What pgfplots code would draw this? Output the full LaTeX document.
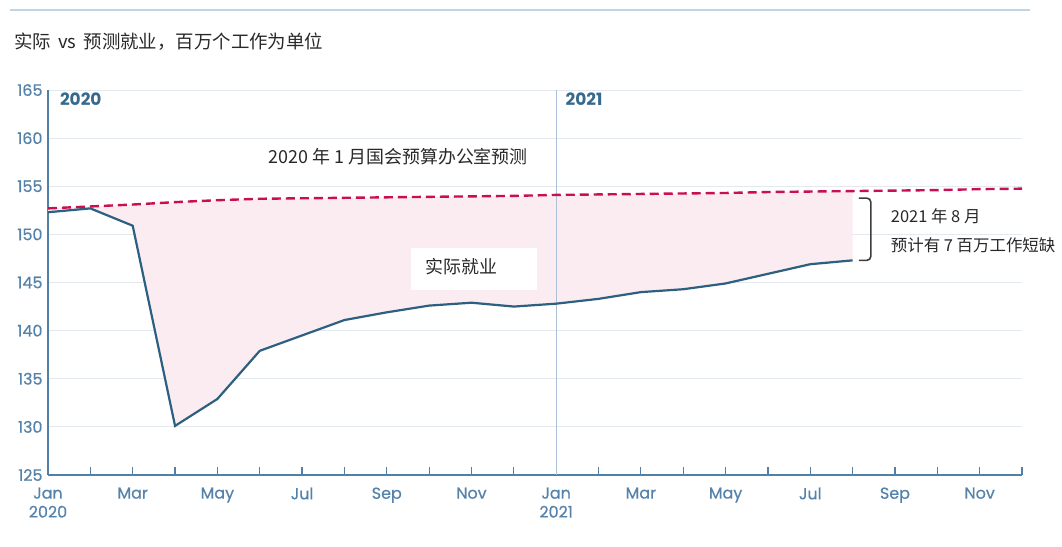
\documentclass[border=0pt]{standalone}
\usepackage{fontspec}
\usepackage{pgfplots}
\usepackage{pgfplotstable}
\pgfplotsset{compat=1.18}
\setmainfont{Poppins}
\newfontfamily\tickfont{Poppins}[FakeBold=0.6]
\newfontfamily\cjk{Noto Sans CJK SC}
\definecolor{axblue}{RGB}{80,128,168}
\definecolor{ticktxt}{RGB}{84,130,170}
\definecolor{linec}{RGB}{45,95,128}
\definecolor{proj}{RGB}{200,16,80}
\definecolor{shade}{RGB}{250,236,241}
\definecolor{gridc}{RGB}{226,233,241}
\definecolor{vline}{RGB}{170,192,214}
\definecolor{txt}{RGB}{40,40,40}
\definecolor{yrc}{RGB}{55,105,140}

\pgfplotstableread{
m v
0 152.3
1 152.7
2 150.9
3 130.1
4 132.9
5 137.9
6 139.5
7 141.1
8 141.9
9 142.6
10 142.9
11 142.5
12 142.8
13 143.3
14 144.0
15 144.3
16 144.9
17 145.9
18 146.9
19 147.3
}\actual

\pgfplotstableread{
m v
0 152.7
1 152.9
2 153.1
3 153.35
4 153.55
5 153.7
6 153.75
7 153.8
8 153.85
9 153.9
10 153.95
11 154.0
12 154.1
13 154.15
14 154.2
15 154.25
16 154.3
17 154.4
18 154.45
19 154.5
20 154.55
21 154.6
22 154.7
23 154.75
}\projection

\begin{document}
\begin{tikzpicture}
\path[use as bounding box] (-48bp,-72bp) rectangle (1014bp,475bp);
\draw[vline!70, line width=1.2bp] (-38bp,465bp) -- (982bp,465bp);
\node[anchor=west, font=\cjk\fontsize{18.5}{20}\selectfont, text=txt, inner sep=0pt] at (-34bp,433bp) {实际 \,vs\, 预测就业，百万个工作为单位};
\begin{axis}[
  width=974bp, height=385bp, scale only axis,
  xmin=0, xmax=23, ymin=125, ymax=165,
  axis lines=left,
  axis line style={-, axblue, line width=2.2bp},
  xtick={0,2,...,22},
  minor xtick={1,3,...,23},
  xticklabels={Jan\\2020,Mar,May,Jul,Sep,Nov,Jan\\2021,Mar,May,Jul,Sep,Nov},
  x tick label style={align=center, font=\tickfont\fontsize{16}{19}\selectfont, text=ticktxt, yshift=-9bp},
  y tick label style={font=\tickfont\fontsize{16}{18}\selectfont, text=ticktxt, xshift=-2bp},
  /pgf/number format/assume math mode=true,
  xtick style={axblue, line width=1.2bp},
  minor x tick style={axblue, line width=1.2bp},
  tick align=inside,
  major tick length=8bp, minor tick length=8bp,
  ytick={125,130,...,165},
  y tick style={draw=none},
  ymajorgrids,
  grid style={gridc, line width=1bp},
  clip mode=individual,
]
% shaded gap: projection (Jan 2020 - Aug 2021) then actual back
\addplot[fill=shade, draw=none, forget plot] coordinates {
(0,152.7) (1,152.9) (2,153.1) (3,153.35) (4,153.55) (5,153.7) (6,153.75) (7,153.8) (8,153.85) (9,153.9)
(10,153.95) (11,154.0) (12,154.1) (13,154.15) (14,154.2) (15,154.25) (16,154.3) (17,154.4) (18,154.45) (19,154.5)
(19,147.3) (18,146.9) (17,145.9) (16,144.9) (15,144.3) (14,144.0) (13,143.3) (12,142.8) (11,142.5) (10,142.9)
(9,142.6) (8,141.9) (7,141.1) (6,139.5) (5,137.9) (4,132.9) (3,130.1) (2,150.9) (1,152.7) (0,152.3)
} -- cycle;
\draw[vline, line width=1.2bp] (axis cs:12,125) -- (axis cs:12,165);
\fill[white] (axis cs:8.58,148.6) rectangle (axis cs:11.54,144.2);
\node[anchor=west, font=\cjk\fontsize{18}{20}\selectfont, text=txt, inner sep=0pt] at (axis cs:8.91,146.6) {实际就业};
\addplot[proj, line width=2.4bp, dash pattern=on 9bp off 5bp] table[x=m,y=v] {\projection};
\addplot[linec, line width=2.2bp] table[x=m,y=v] {\actual};
\node[anchor=west, font=\bfseries\fontsize{17}{19}\selectfont, text=yrc, inner sep=0pt] at (axis cs:0.28,164.0) {2020};
\node[anchor=west, font=\bfseries\fontsize{17}{19}\selectfont, text=yrc, inner sep=0pt] at (axis cs:12.22,164.0) {2021};
\node[font=\cjk\fontsize{18}{20}\selectfont, text=txt, inner sep=0pt] at (axis cs:8.27,158.1) {2020 年 1 月国会预算办公室预测};
\draw[txt!90, line width=1.6bp, rounded corners=4bp] (axis cs:19.15,153.77) -- (axis cs:19.43,153.77) -- (axis cs:19.43,147.3) -- (axis cs:19.15,147.3);
\node[anchor=west, font=\cjk\fontsize{16.5}{18}\selectfont, text=txt, inner sep=0pt] at (axis cs:19.9,151.9) {2021 年 8 月};
\node[anchor=west, font=\cjk\fontsize{16.5}{18}\selectfont, text=txt, inner sep=0pt] at (axis cs:19.9,148.9) {预计有 7 百万工作短缺};
\end{axis}
\end{tikzpicture}
\end{document}
